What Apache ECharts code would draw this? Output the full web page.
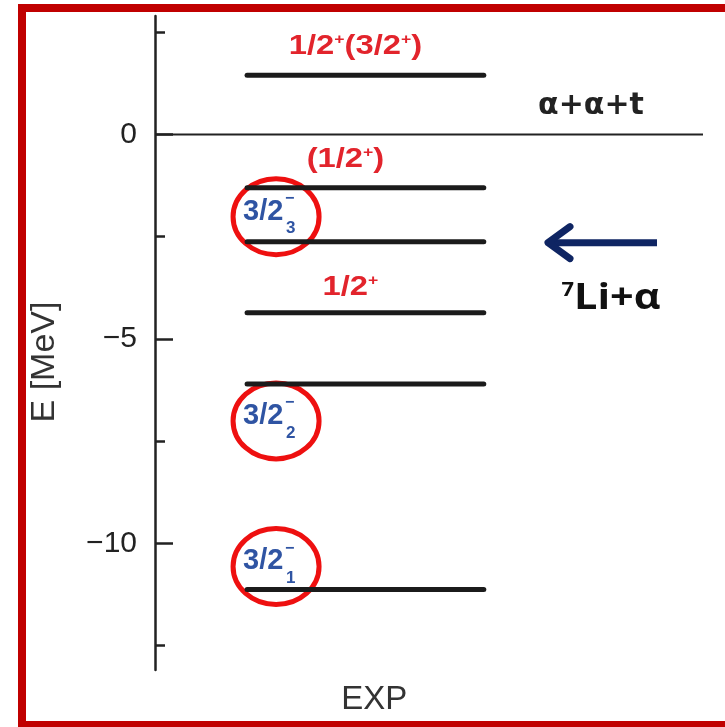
<!DOCTYPE html>
<html><head><meta charset="utf-8">
<script src="https://cdn.jsdelivr.net/npm/echarts@6/dist/echarts.min.js"></script>
<style>html,body{margin:0;padding:0;background:#fff}#c{width:725px;height:727px}</style>
</head><body><div id="c"></div>
<script>
// ---- data ----
const categories = ['EXP'];
const energies = [1.45, -1.30, -2.62, -4.36, -6.10, -11.13];          // MeV, relative to α+α+t
const redLabels = ['1/2{s|+}(3/2{s|+})', '(1/2{s|+})', '', '1/2{s|+}', '', ''];
const blueLevels = [2, 4, 5];           // level index carrying a 3/2⁻ label
const blueSubs = ['3', '2', '1'];
const yTicks = [0, -5, -10];
const yMinorTicks = [2.5, -2.5, -7.5, -12.5];
const yRange = [-13.1, 2.9];
const thresholdEnergy = 0;
const thresholdLabel = 'α+α+t';
const channelLevel = 2;
const yName = 'E [MeV]';

// ---- style ----
const LEVEL_X = [0.168, 0.6];
const EXP_X = 0.4;
const redDx = [-10, -20, 0, -15, 0, 0];
const redDy = [-29, -28, 0, -25, 0, 0];
const blueDy = [-30, 32, -28];
const SANS = '"Liberation Sans", Arial, sans-serif';

const chart = echarts.init(document.getElementById('c'));
chart.setOption({
  animation: false,
  backgroundColor: '#fff',
  grid: {left: 155, right: 22, top: 16, bottom: 57},
  xAxis: {
    type: 'value', min: 0, max: 1,
    axisLine: {show: false}, axisTick: {show: false}, splitLine: {show: false},
    axisLabel: {customValues: [EXP_X], formatter: () => categories[0], fontSize: 33,
      fontFamily: SANS, color: '#333', margin: 13}
  },
  yAxis: [{
    type: 'value', min: yRange[0], max: yRange[1], position: 'left',
    axisLine: {show: true, lineStyle: {color: '#222', width: 2.5}},
    axisTick: {show: true, inside: true, length: 18, customValues: yTicks, lineStyle: {color: '#222', width: 2.5}},
    axisLabel: {customValues: yTicks, formatter: v => String(v).replace('-', '\u2212'),
      fontSize: 30, fontFamily: SANS, color: '#222', margin: 18},
    splitLine: {show: false}
  }, {
    type: 'value', min: yRange[0], max: yRange[1], position: 'left',
    axisLine: {show: false},
    axisTick: {show: true, inside: true, length: 10, customValues: yMinorTicks, lineStyle: {color: '#222', width: 2.5}},
    axisLabel: {show: false}, splitLine: {show: false}
  }],
  series: [{
    type: 'line', xAxisIndex: 0, yAxisIndex: 0, symbol: 'none', silent: true,
    data: [[0, thresholdEnergy], [1, thresholdEnergy]],
    lineStyle: {color: '#222', width: 2}
  }, {
    type: 'custom', xAxisIndex: 0, yAxisIndex: 0, silent: true,
    encode: {y: 0},
    data: energies.map(e => [e]),
    renderItem: function (params, api) {
      const e = api.value(0);
      const p0 = api.coord([LEVEL_X[0], e]);
      const p1 = api.coord([LEVEL_X[1], e]);
      const i = params.dataIndex;
      const children = [{
        type: 'line', shape: {x1: p0[0], y1: p0[1], x2: p1[0], y2: p1[1]},
        style: {stroke: '#1b1b1b', lineWidth: 5, lineCap: 'round'}
      }];
      if (redLabels[i]) {
        children.push({
          type: 'text', x: (p0[0] + p1[0]) / 2 + redDx[i], y: p0[1] + redDy[i], scaleX: 1.17,
          style: {
            text: redLabels[i], align: 'center', verticalAlign: 'middle',
            fontSize: 28, fontWeight: 'bold', fontFamily: SANS, fill: '#e2242c', lineHeight: 28,
            rich: {s: {fontSize: 15, fontWeight: 'bold', fontFamily: SANS, fill: '#e2242c', lineHeight: 10, verticalAlign: 'top'}}
          }
        });
      }
      return {type: 'group', children: children};
    }
  }]
});

const px = (x, y) => chart.convertToPixel({gridIndex: 0}, [x, y]);
const graphics = [];
// frame
graphics.push({type: 'rect', z: 100, shape: {x: 22, y: 8, width: 760, height: 717},
  style: {fill: 'none', stroke: '#c00000', lineWidth: 8}});
// axis name
graphics.push({type: 'text', x: 45, y: 362, rotation: Math.PI / 2,
  style: {text: yName, fontSize: 34, fontFamily: SANS, fill: '#333', align: 'center', verticalAlign: 'middle'}});
// threshold label
const rEnd = px(1, thresholdEnergy);
graphics.push({type: 'text', x: rEnd[0] - 112, y: rEnd[1] - 28,
  style: {text: thresholdLabel, fontSize: 30, fontWeight: 'bold', fontFamily: '"DejaVu Sans", sans-serif', fill: '#222', align: 'center', verticalAlign: 'middle'}});
// blue labels with circles
blueLevels.forEach((li, k) => {
  const p = px(LEVEL_X[0], energies[li]);
  const lx = p[0] - 4, ly = p[1] + blueDy[k];
  const blue = '#2f54a3';
  graphics.push({type: 'text', x: lx, y: ly,
    style: {text: '3/2', fontSize: 29, fontWeight: 'bold', fontFamily: SANS, fill: blue, align: 'left', verticalAlign: 'middle'}});
  graphics.push({type: 'text', x: lx + 42, y: ly - 13,
    style: {text: '\u2212', fontSize: 16, fontWeight: 'bold', fontFamily: SANS, fill: blue, align: 'left', verticalAlign: 'middle'}});
  graphics.push({type: 'text', x: lx + 43, y: ly + 17,
    style: {text: blueSubs[k], fontSize: 17, fontWeight: 'bold', fontFamily: SANS, fill: blue, align: 'left', verticalAlign: 'middle'}});
  graphics.push({type: 'ellipse', shape: {cx: lx + 33, cy: ly + 5, rx: 43, ry: 38},
    style: {fill: 'none', stroke: '#ee1010', lineWidth: 5}});
});
// arrow to 7Li+α threshold
const ap = px(1, energies[channelLevel]);
const tipX = ap[0] - 155, tailX = ap[0] - 46, ay = ap[1] + 1;
const navy = '#0f2563';
graphics.push({type: 'line', shape: {x1: tailX, y1: ay, x2: tipX + 4, y2: ay},
  style: {stroke: navy, lineWidth: 7}});
graphics.push({type: 'polyline', shape: {points: [[tipX + 22, ay - 16], [tipX, ay], [tipX + 22, ay + 16]]},
  style: {stroke: navy, lineWidth: 7, fill: 'none', lineJoin: 'round', lineCap: 'round'}});
graphics.push({type: 'text', x: tipX + 63, y: ay + 56, scaleX: 1.15,
  style: {text: '{s|7}Li+α', fontSize: 36, fontWeight: 'bold', fontFamily: '"Open Sans", sans-serif', fill: '#111',
    align: 'center', verticalAlign: 'middle', lineHeight: 36,
    rich: {s: {fontSize: 19, fontWeight: 'bold', fontFamily: '"Open Sans", sans-serif', fill: '#111', lineHeight: 19, verticalAlign: 'top'}}}});
chart.setOption({graphic: graphics});
</script>
</body></html>
